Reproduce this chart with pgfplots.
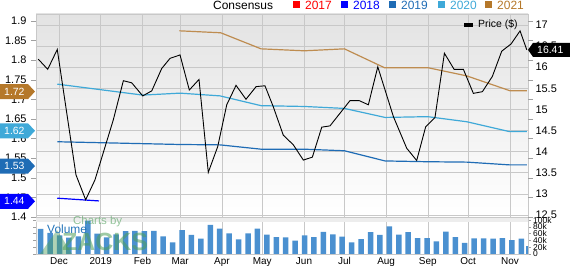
\documentclass[border=0pt]{standalone}
\usepackage{fontspec}
\setmainfont{Liberation Sans}
\usepackage{pgfplots}
\pgfplotsset{compat=1.18}

\definecolor{c2017}{HTML}{FF0000}
\definecolor{c2018}{HTML}{0000FF}
\definecolor{c2019}{HTML}{1F6CB5}
\definecolor{c2020}{HTML}{3FA9D8}
\definecolor{c2021}{HTML}{B5782A}
\definecolor{l2021}{HTML}{BE8C50}
\definecolor{gridgray}{HTML}{C8C8C8}
\definecolor{volblue}{HTML}{4A90D0}
\definecolor{zgreen}{HTML}{4E9E5A}

% x is measured in days from 1 Dec 2018
\pgfplotsset{
  datex/.style={xmin=-17.1, xmax=348.4,
    xtick={0,31,62,90,121,151,182,212,243,274,304,335}},
  panel/.style={at={(36bp,49bp)}, anchor=south west, scale only axis,
    width=492bp, height=203bp, datex},
  /pgf/number format/assume math mode=true,
}

\begin{document}
\begin{tikzpicture}
\path[use as bounding box] (0,0) rectangle (570bp,266bp);

% price scale (right), grid and shaded panel
\begin{axis}[panel, ymin=12.452, ymax=17.26,
  ytick={12.5,13,13.5,14,14.5,15,15.5,16,16.5,17},
  yticklabel pos=right, xticklabels={},
  grid=major, grid style={draw=gridgray, line width=0.6bp},
  axis line style={draw=gridgray, line width=0.6bp},
  major tick length=0pt,
  axis background/.style={top color=black!11, bottom color=white},
  yticklabel style={font=\fontsize{11}{12}\selectfont, anchor=west, xshift=4bp}]
\addplot[draw=none] coordinates {(0,15)};
\end{axis}

% consensus estimates (left scale)
\begin{axis}[panel, ymin=1.4, ymax=1.9179, clip=false,
  ytick={1.4,1.45,1.5,1.55,1.6,1.65,1.7,1.75,1.8,1.85,1.9},
  xtick=\empty, axis line style={draw=none},
  tick align=outside, major tick length=5bp,
  ytick style={draw=gridgray!80!black, line width=0.6bp},
  yticklabel style={font=\fontsize{11}{12}\selectfont, xshift=-1bp}]
\addplot[c2018, line width=1.2bp] coordinates {(-1.3,1.448) (29.7,1.441)};
\addplot[c2019, line width=1.2bp] coordinates {
  (-1.3,1.592) (89.9,1.585) (119.6,1.584) (150.1,1.573) (182.2,1.573)
  (212,1.569) (242.2,1.543) (273.9,1.541) (302.9,1.540) (334.5,1.533) (347.5,1.533)};
\addplot[c2020, line width=1.2bp] coordinates {
  (-1.3,1.739) (62.2,1.711) (89.9,1.716) (119.6,1.709) (150.1,1.684) (182.2,1.682)
  (212,1.677) (242.2,1.654) (273.9,1.656) (302.9,1.643) (334.5,1.618) (347.5,1.618)};
\addplot[l2021, line width=1.2bp] coordinates {
  (89.4,1.875) (120.1,1.870) (150.1,1.829) (182.2,1.824) (212,1.829)
  (241.7,1.781) (273.9,1.781) (302.9,1.760) (335.1,1.722) (347.5,1.722)};
\coordinate (t44) at (axis cs:-17.1,1.44);
\coordinate (t53) at (axis cs:-17.1,1.53);
\coordinate (t62) at (axis cs:-17.1,1.62);
\coordinate (t72) at (axis cs:-17.1,1.72);
\end{axis}

% share price (right scale)
\begin{axis}[panel, ymin=12.452, ymax=17.26, hide axis]
\addplot[black, line width=0.9bp] coordinates {
  (-15.4,16.19) (-8.4,15.95) (-1.3,16.42) (12.6,13.45) (19.8,12.86) (26.7,13.33)
  (40.3,14.75) (47.8,15.68) (54.0,15.63) (62.2,15.32) (68.9,15.44) (76.3,15.97)
  (82.5,16.21) (89.9,16.29) (96.8,15.46) (104.0,15.71) (110.9,13.51) (117.9,14.12)
  (124.6,15.11) (131.5,15.57) (138.9,15.24) (146.4,15.54) (153.0,15.56) (159.2,15.06)
  (166.6,14.39) (174.1,14.16) (181.5,13.80) (188.2,13.87) (195.2,14.58) (201.3,14.61)
  (216.2,15.21) (222.9,15.21) (229.8,15.11) (236.8,16.01) (248.4,14.83) (258.3,14.08)
  (265.7,13.79) (272.4,14.59) (279.3,14.81) (286.3,16.33) (293.5,15.95) (300.4,15.95)
  (307.8,15.38) (314.5,15.42) (321.9,15.78) (328.9,16.38) (335.8,16.55) (342.5,16.86)
  (347.5,16.41)};
\coordinate (tp) at (axis cs:348.4,16.41);
\end{axis}

% weekly volume, in thousands
\begin{axis}[at={(36bp,12bp)}, anchor=south west, scale only axis,
  width=492bp, height=36bp, datex, ymin=0, ymax=105.9,
  xticklabels={Dec,2019,Feb,Mar,Apr,May,Jun,Jul,Aug,Sep,Oct,Nov},
  ytick={0,20,40,60,80,100}, yticklabels={0,20k,40k,60k,80k,100k},
  yticklabel pos=right, xmajorgrids,
  grid style={draw=gridgray, line width=0.6bp},
  axis line style={draw=gridgray, line width=0.6bp},
  tick align=outside, xtick style={draw=none},
  ytick style={draw=gridgray!80!black, line width=0.5bp}, major tick length=3bp,
  xticklabel style={font=\fontsize{10}{11}\selectfont, inner sep=0.5bp},
  yticklabel style={font=\fontsize{8.5}{9}\selectfont, inner sep=1bp, anchor=west, xshift=1bp}]
\fill[black!7] (rel axis cs:0,1) rectangle ([yshift=-4bp]rel axis cs:1,1);
\addplot[ybar, bar width=5.5bp, fill=volblue, draw=none] coordinates {
  (-13.6,74) (-6.6,62) (0.4,55) (7.4,48) (14.4,52) (21.4,98) (28.4,60) (35.4,49)
  (42.4,58) (49.4,67) (56.4,68) (63.4,67) (70.4,68) (77.4,52) (84.4,34) (91.4,70)
  (98.4,56) (105.4,45) (112.4,86) (119.4,75) (126.4,61) (133.4,43) (140.4,61)
  (147.4,75) (154.4,57) (161.4,50) (168.4,49) (175.4,39) (182.4,55) (189.4,50)
  (196.4,65) (203.4,58) (210.4,51) (217.4,34) (224.4,44) (231.4,64) (238.4,56)
  (245.4,81) (252.4,57) (259.4,64) (266.4,47) (273.4,47) (280.4,37) (287.4,66)
  (294.4,50) (301.4,33) (308.4,46) (315.4,46) (322.4,45) (329.4,47) (336.4,41)
  (343.4,45) (349.0,23)};
\end{axis}

% watermark and volume caption
\fill[zgreen, opacity=0.45] (40bp,12bp) -- (57bp,36bp) -- (72bp,12bp) -- cycle;
\node[anchor=west, text=zgreen, opacity=0.6, inner sep=0, font=\fontsize{11.5}{12}\selectfont] at (73bp,44bp) {Charts by};
\node[anchor=west, text=zgreen, opacity=0.55, inner sep=0, font=\bfseries\fontsize{25}{26}\selectfont] at (62bp,24bp) {ZACKS};
\node[anchor=west, text=c2019!85!c2020, inner sep=0, font=\fontsize{12}{13}\selectfont] at (47bp,37bp) {Volume};

% value tags on the left scale
\foreach \c/\col/\txt in {t72/c2021/1.72, t62/c2020/1.62, t53/c2019/1.53, t44/c2018/1.44}{
  \fill[\col] (0bp,0 |- \c) ++(0,-7.5bp) -- ++(28bp,0) -- ++(7bp,7.5bp) -- ++(-7bp,7.5bp) -- ++(-28bp,0) -- cycle;
  \node[anchor=west, text=white, inner sep=0, font=\fontsize{10.5}{12}\selectfont] at (4bp,0 |- \c) {\txt};
}
% last price tag
\coordinate (tpr) at (570bp,0 |- tp);
\fill[black] (tp) -- ([xshift=5bp,yshift=7bp]tp) -- ([yshift=7bp]tpr)
  -- ([yshift=-7bp]tpr) -- ([xshift=5bp,yshift=-7bp]tp) -- cycle;
\node[anchor=west, text=white, inner sep=0, font=\fontsize{10.5}{12}\selectfont] at ([xshift=9bp]tp) {16.41};

% legends
\fill[black] (464bp,239bp) rectangle (473bp,243bp);
\node[anchor=west, inner sep=0, font=\fontsize{10.5}{12}\selectfont] at (478bp,241bp) {Price (\$)};
\node[anchor=west, inner sep=0, font=\fontsize{12}{13}\selectfont] at (213bp,261bp) {Consensus};
\foreach \xs/\xt/\col/\yr in {293/305/c2017/2017, 341/353/c2018/2018, 389/401/c2019/2019, 438/450/c2020/2020, 485/497/c2021/2021}{
  \fill[\col] (\xs bp,257.5bp) rectangle ++(7bp,7bp);
  \node[anchor=west, inner sep=0, text=\col, font=\fontsize{12}{13}\selectfont] at (\xt bp,261bp) {\yr};
}
\end{tikzpicture}
\end{document}
